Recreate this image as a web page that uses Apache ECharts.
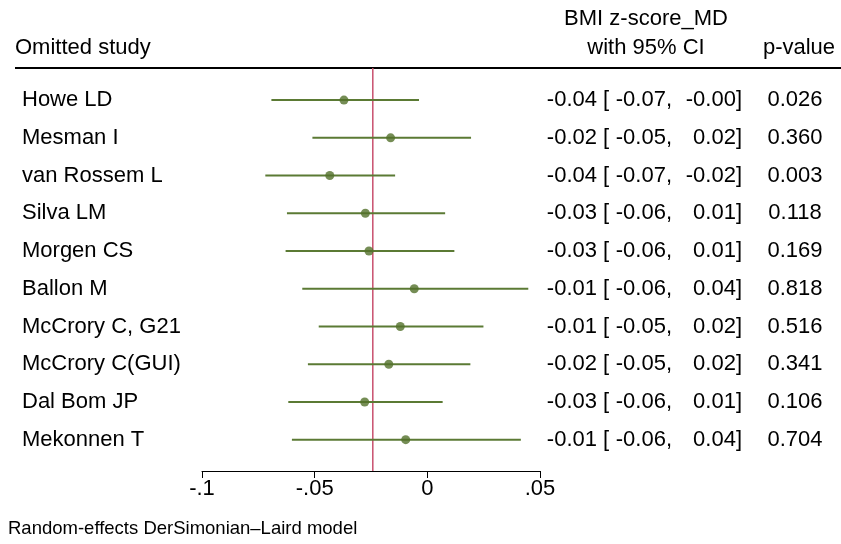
<!DOCTYPE html>
<html>
<head>
<meta charset="utf-8">
<script src="https://cdn.jsdelivr.net/npm/echarts@6/dist/echarts.min.js"></script>
<style>
html,body{margin:0;padding:0;background:#fff;}
#chart{width:841px;height:544px;}
</style>
</head>
<body>
<div id="chart"></div>
<script>
// ---- data ----
const studies = ['Howe LD','Mesman I','van Rossem L','Silva LM','Morgen CS','Ballon M','McCrory C, G21','McCrory C(GUI)','Dal Bom JP','Mekonnen T'];
const estimates = [-0.0370, -0.0163, -0.0433, -0.0275, -0.0259, -0.0058, -0.0120, -0.0171, -0.0278, -0.0096];
const lowerCI = [-0.0692, -0.0510, -0.0719, -0.0623, -0.0629, -0.0555, -0.0482, -0.0530, -0.0617, -0.0601];
const upperCI = [-0.0037, 0.0194, -0.0143, 0.0079, 0.0120, 0.0448, 0.0249, 0.0191, 0.0068, 0.0415];
const estText = ['-0.04','-0.02','-0.04','-0.03','-0.03','-0.01','-0.01','-0.02','-0.03','-0.01'];
const lowerText = ['-0.07','-0.05','-0.07','-0.06','-0.06','-0.06','-0.05','-0.05','-0.06','-0.06'];
const upperText = ['-0.00','0.02','-0.02','0.01','0.01','0.04','0.02','0.02','0.01','0.04'];
const pValues = ['0.026','0.360','0.003','0.118','0.169','0.818','0.516','0.341','0.106','0.704'];
const overallEffect = [-0.0242];
const xTickValues = [-0.1, -0.05, 0, 0.05];
const xTickLabels = ['-.1', '-.05', '0', '.05'];

const FONT = '"Liberation Sans", Arial, sans-serif';
const FS = 22;
const lineColor = '#5b7a34';
const dotColor = '#52702b';
const refColor = '#c9506e';
const Y_MIN = 0.15, Y_MAX = 10.83;

const chart = echarts.init(document.getElementById('chart'), null, {renderer: 'canvas'});

const rowData = studies.map((s, i) => [-0.1, i + 1]);

const option = {
  backgroundColor: '#fff',
  animation: false,
  textStyle: {fontFamily: FONT},
  grid: {left: 202, right: 301, top: 68, bottom: 73, containLabel: false},
  xAxis: {
    type: 'value', min: -0.1, max: 0.05, interval: 0.05,
    axisLine: {show: true, onZero: false, lineStyle: {color: '#000', width: 1}},
    axisTick: {show: true, length: 7, inside: false, lineStyle: {color: '#000', width: 1}},
    axisLabel: {
      show: true, margin: 7, fontSize: FS, color: '#000', fontFamily: FONT,
      formatter: function (v) {
        for (let k = 0; k < xTickValues.length; k++) {
          if (Math.abs(v - xTickValues[k]) < 1e-9) return xTickLabels[k];
        }
        return '';
      }
    },
    splitLine: {show: false}
  },
  yAxis: {
    type: 'value', inverse: true, min: Y_MIN, max: Y_MAX,
    show: false, splitLine: {show: false}
  },
  series: [
    {
      type: 'custom',
      name: 'overall',
      data: overallEffect.map(v => [v]),
      encode: {x: 0},
      renderItem: function (params, api) {
        const v = api.value(0);
        const p1 = api.coord([v, Y_MIN]);
        const p2 = api.coord([v, Y_MAX]);
        return {
          type: 'line',
          shape: {x1: p1[0], y1: p1[1], x2: p2[0], y2: p2[1]},
          style: {stroke: refColor, lineWidth: 1.5}
        };
      },
      z: 1
    },
    {
      type: 'custom',
      name: 'ci',
      data: studies.map((s, i) => [lowerCI[i], upperCI[i], i + 1]),
      encode: {x: [0, 1], y: 2},
      renderItem: function (params, api) {
        const p1 = api.coord([api.value(0), api.value(2)]);
        const p2 = api.coord([api.value(1), api.value(2)]);
        return {
          type: 'line',
          shape: {x1: p1[0], y1: p1[1], x2: p2[0], y2: p2[1]},
          style: {stroke: lineColor, lineWidth: 2}
        };
      },
      z: 2
    },
    {
      type: 'scatter',
      name: 'est',
      data: estimates.map((v, i) => [v, i + 1]),
      symbol: 'circle',
      symbolSize: 9,
      itemStyle: {color: dotColor},
      z: 4
    },
    {
      type: 'custom',
      name: 'table',
      data: rowData,
      encode: {x: 0, y: 1},
      clip: false,
      renderItem: function (params, api) {
        const i = params.dataIndex;
        const y = api.coord([api.value(0), api.value(1)])[1];
        const base = {fontSize: FS, fontFamily: FONT, fill: '#000', verticalAlign: 'middle'};
        return {
          type: 'group',
          children: [
            {type: 'text', style: Object.assign({}, base, {text: studies[i], x: 22, y: y, align: 'left'})},
            {type: 'text', style: Object.assign({}, base, {text: estText[i], x: 597, y: y, align: 'right'})},
            {type: 'text', style: Object.assign({}, base, {text: '[', x: 603, y: y, align: 'left'})},
            {type: 'text', style: Object.assign({}, base, {text: lowerText[i] + ',', x: 672, y: y, align: 'right'})},
            {type: 'text', style: Object.assign({}, base, {text: upperText[i] + ']', x: 742, y: y, align: 'right'})},
            {type: 'text', style: Object.assign({}, base, {text: pValues[i], x: 795, y: y, align: 'center'})}
          ]
        };
      },
      z: 5
    }
  ],
  graphic: [
    {type: 'text', x: 15, y: 48, style: {text: 'Omitted study', fontSize: FS, fontFamily: FONT, fill: '#000', align: 'left', verticalAlign: 'middle'}},
    {type: 'text', x: 646, y: 19, style: {text: 'BMI z-score_MD', fontSize: FS, fontFamily: FONT, fill: '#000', align: 'center', verticalAlign: 'middle'}},
    {type: 'text', x: 646, y: 48, style: {text: 'with 95% CI', fontSize: FS, fontFamily: FONT, fill: '#000', align: 'center', verticalAlign: 'middle'}},
    {type: 'text', x: 799, y: 48, style: {text: 'p-value', fontSize: FS, fontFamily: FONT, fill: '#000', align: 'center', verticalAlign: 'middle'}},
    {type: 'line', shape: {x1: 15, y1: 68, x2: 841, y2: 68}, style: {stroke: '#000', lineWidth: 2}},
    {type: 'text', x: 8, y: 529, style: {text: 'Random-effects DerSimonian\u2013Laird model', fontSize: 18.5, fontFamily: FONT, fill: '#000', align: 'left', verticalAlign: 'middle'}}
  ]
};
chart.setOption(option);
</script>
</body>
</html>
